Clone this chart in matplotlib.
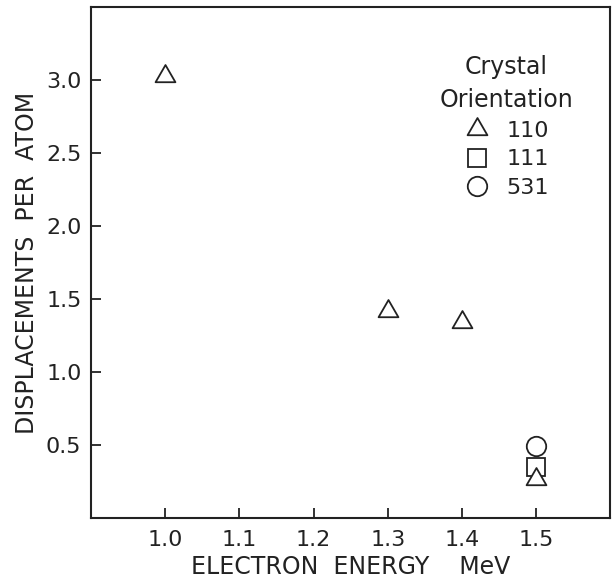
import numpy as np
import matplotlib.pyplot as plt
from matplotlib.path import Path

# data
energy_110 = [1.0, 1.3, 1.4, 1.5]
dpa_110 = [3.03, 1.42, 1.34, 0.27]
energy_111 = [1.5]
dpa_111 = [0.35]
energy_531 = [1.5]
dpa_531 = [0.49]

xticks = [1.0, 1.1, 1.2, 1.3, 1.4, 1.5]
yticks = [0.5, 1.0, 1.5, 2.0, 2.5, 3.0]

ink = '#222222'
plt.rcParams['font.family'] = 'DejaVu Sans'

# equilateral triangle marker
tri = Path([(-1, -0.577), (1, -0.577), (0, 1.155), (-1, -0.577)],
           [Path.MOVETO, Path.LINETO, Path.LINETO, Path.CLOSEPOLY])

fig = plt.figure(figsize=(6.12, 5.83), dpi=100)
ax = fig.add_axes([0.149, 0.1115, 0.848, 0.8765])

mk = dict(ls='none', mfc='white', mec=ink, mew=1.3)
l531, = ax.plot(energy_531, dpa_531, marker='o', ms=14, zorder=3, **mk)
l111, = ax.plot(energy_111, dpa_111, marker='s', ms=13.5, zorder=4, **mk)
l110, = ax.plot(energy_110, dpa_110, marker=tri, ms=16.5, zorder=5, **mk)

ax.set_xlim(0.9, 1.6)
ax.set_ylim(0, 3.5)
ax.set_xticks(xticks)
ax.set_yticks(yticks)
ax.set_xticklabels([f'{v:.1f}' for v in xticks])
ax.set_yticklabels([f'{v:.1f}' for v in yticks])

ax.tick_params(direction='in', length=7, width=1.3, color=ink,
               labelsize=16, labelcolor=ink)
ax.tick_params(axis='x', pad=9)
ax.tick_params(axis='y', pad=7)
for s in ax.spines.values():
    s.set_linewidth(1.5)
    s.set_color(ink)

ax.set_xlabel('ELECTRON  ENERGY    MeV', fontsize=17, color=ink, labelpad=3)
ax.set_ylabel('DISPLACEMENTS  PER  ATOM', fontsize=17, color=ink, labelpad=5)

leg = ax.legend([l110, l111, l531], ['110', '111', '531'],
                title='Crystal\nOrientation', title_fontsize=17, fontsize=16,
                frameon=False, loc='upper center', bbox_to_anchor=(0.80, 0.928),
                handlelength=1.2, handletextpad=0.7, labelspacing=0.38,
                borderpad=0)
for t in leg.get_texts():
    t.set_color(ink)
leg.get_title().set_color(ink)
leg.get_title().set_multialignment('center')
leg.get_title().set_linespacing(1.5)

fig.savefig('out.png', dpi=100, facecolor='white')
